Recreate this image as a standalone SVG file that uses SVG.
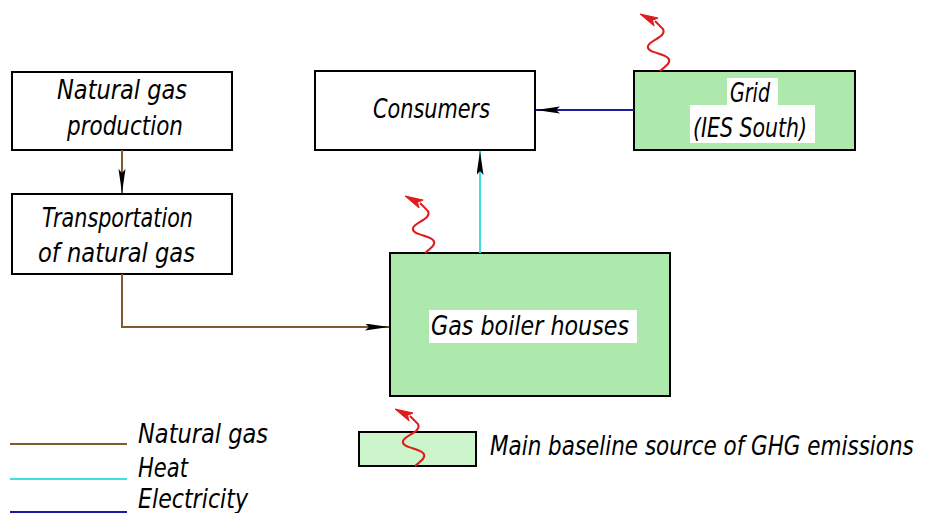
<svg xmlns="http://www.w3.org/2000/svg" width="930" height="513" viewBox="0 0 930 513">
<style>
.box{fill:#ffffff;stroke:#000;stroke-width:2}
.grn{fill:#ade8ad;stroke:#000;stroke-width:2}
.lgn{fill:#ccf5cc;stroke:#000;stroke-width:2}
.t{font-family:"DejaVu Sans","Liberation Sans",sans-serif;font-style:italic;font-weight:200;font-size:27px;fill:#000}
.gas{stroke:#7f5a2e;stroke-width:2;fill:none}
.heat{stroke:#3fdde6;stroke-width:2;fill:none}
.el{stroke:#1b1ba0;stroke-width:2;fill:none}
.wave{stroke:#e01b1b;stroke-width:2;fill:none}
.whead{fill:#e01b1b;stroke:#e01b1b;stroke-width:1;stroke-linejoin:round}
</style>
<defs>
<marker id="arr" markerUnits="userSpaceOnUse" markerWidth="26" markerHeight="8" refX="24" refY="3.5" orient="auto">
<path d="M0,0 L24,3.5 L0,7 L4,3.5 z" fill="#000"/>
</marker>
<g id="emis">
<path class="wave" d="M0,0 C6,-5 12,-9 8,-13 C4,-18 -14,-18 -12,-25 C-10,-31 7,-34 3,-42 L-5,-50"/>
<path class="whead" d="M-20,-57 L-1.9,-53 L-7.5,-50.7 L-5.9,-45 z"/>
</g>
</defs>

<g id="production">
<rect class="box" x="12" y="72" width="220" height="78"/>
<text class="t" x="57" y="99" textLength="130" lengthAdjust="spacingAndGlyphs">Natural gas</text>
<text class="t" x="67" y="135" textLength="116" lengthAdjust="spacingAndGlyphs">production</text>
</g>

<g id="transportation">
<rect class="box" x="12" y="194" width="220" height="80"/>
<text class="t" x="42" y="227" textLength="151" lengthAdjust="spacingAndGlyphs">Transportation</text>
<text class="t" x="38" y="262" textLength="157" lengthAdjust="spacingAndGlyphs">of natural gas</text>
</g>

<g id="consumers">
<rect class="box" x="315" y="71" width="220" height="79"/>
<text class="t" x="373" y="118" textLength="117" lengthAdjust="spacingAndGlyphs">Consumers</text>
</g>

<g id="grid">
<rect class="grn" x="634" y="71" width="221" height="79"/>
<rect x="727" y="78" width="51" height="27" fill="#fff"/>
<rect x="690" y="105" width="125" height="38" fill="#fff"/>
<text class="t" x="730" y="102" textLength="40" lengthAdjust="spacingAndGlyphs">Grid</text>
<text class="t" x="693" y="137" textLength="114" lengthAdjust="spacingAndGlyphs">(IES South)</text>
<use href="#emis" x="660" y="71"/>
</g>

<g id="boiler">
<rect class="grn" x="390" y="253" width="280" height="143"/>
<rect x="429" y="310" width="208" height="33" fill="#fff"/>
<text class="t" x="431" y="335" textLength="198" lengthAdjust="spacingAndGlyphs">Gas boiler houses</text>
<use href="#emis" x="425" y="253"/>
</g>

<g id="connectors">
<path class="gas" d="M122,150 L122,193" marker-end="url(#arr)"/>
<path class="gas" d="M122,274 L122,327 L389,327" marker-end="url(#arr)"/>
<path class="heat" d="M480,253 L480,151" marker-end="url(#arr)"/>
<path class="el" d="M634,110 L536,110" marker-end="url(#arr)"/>
</g>

<g id="legend">
<line class="gas" x1="10" y1="444" x2="127" y2="444"/>
<line class="heat" x1="10" y1="479" x2="127" y2="479"/>
<line class="el" x1="10" y1="512" x2="127" y2="512"/>
<text class="t" x="138" y="443" textLength="130" lengthAdjust="spacingAndGlyphs">Natural gas</text>
<text class="t" x="138" y="477" textLength="50" lengthAdjust="spacingAndGlyphs">Heat</text>
<text class="t" x="138" y="508" textLength="110" lengthAdjust="spacingAndGlyphs">Electricity</text>
<rect class="lgn" x="359" y="432" width="117" height="34"/>
<use href="#emis" x="415" y="466"/>
<text class="t" transform="translate(490,455) scale(0.75,1)" x="0" y="0" textLength="565" lengthAdjust="spacingAndGlyphs">Main baseline source of GHG emissions</text>
</g>
</svg>
